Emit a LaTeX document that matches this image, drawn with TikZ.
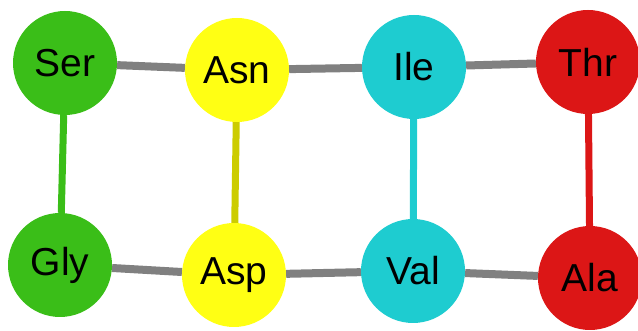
\documentclass[tikz,border=0pt]{standalone}
\usepackage{fontspec}
\setmainfont{Liberation Sans}
\definecolor{cgreen}{RGB}{58,190,24}
\definecolor{cyellow}{RGB}{255,255,20}
\definecolor{ccyan}{RGB}{30,204,208}
\definecolor{cred}{RGB}{220,22,22}
\definecolor{cgray}{RGB}{128,128,128}
\definecolor{cyedge}{RGB}{204,204,0}
\begin{document}
\begin{tikzpicture}[x=1pt,y=-1pt,
  aa/.style={circle,minimum size=104pt,inner sep=0pt,font=\fontsize{39}{44}\selectfont,text=black},
  link/.style={line width=8pt,draw=cgray}]
\useasboundingbox (0,0) rectangle (638,331);
\clip (0,0) rectangle (638,331);
\node[aa,fill=cgreen] (ser) at (65,63) {Ser};
\node[aa,fill=cyellow] (asn) at (237,70) {Asn};
\node[aa,fill=ccyan] (ile) at (414,67) {Ile};
\node[aa,fill=cred] (thr) at (588,62) {Thr};
\node[aa,fill=cgreen] (gly) at (60,265) {Gly};
\node[aa,fill=cyellow] (asp) at (234,275) {Asp};
\node[aa,fill=ccyan] (val) at (413,271) {Val};
\node[aa,fill=cred] (ala) at (590,278) {Ala};
\draw[link] (ser) -- (asn);
\draw[link] (asn) -- (ile);
\draw[link] (ile) -- (thr);
\draw[link] (gly) -- (asp);
\draw[link] (asp) -- (val);
\draw[link] (val) -- (ala);
\draw[link,draw=cgreen,line width=7pt] (ser) -- (gly);
\draw[link,draw=cyedge,line width=7pt] (asn) -- (asp);
\draw[link,draw=ccyan,line width=7pt] (ile) -- (val);
\draw[link,draw=cred,line width=7pt] (thr) -- (ala);
\end{tikzpicture}
\end{document}
